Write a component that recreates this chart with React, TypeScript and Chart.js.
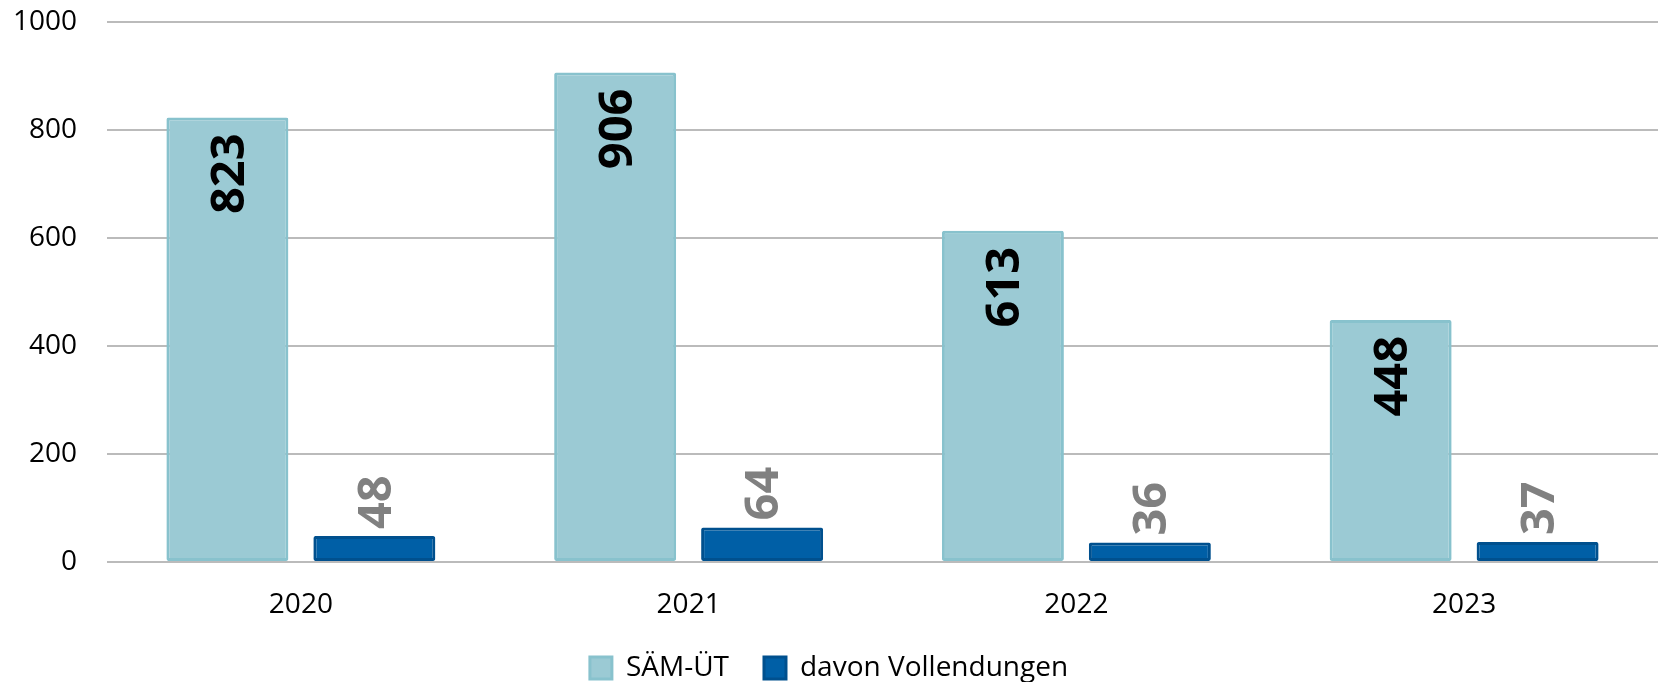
import React, { useEffect, useRef } from "react";
import { Chart, registerables } from "chart.js";

Chart.register(...registerables);

const categories = ["2020", "2021", "2022", "2023"];
const seriesNames = ["SÄM-ÜT", "davon Vollendungen"];
const saemValues = [823, 906, 613, 448];
const vollendungenValues = [48, 64, 36, 37];
const yTicks = [0, 200, 400, 600, 800, 1000];

const FONT = "'Open Sans', 'Liberation Sans', sans-serif";

const valueLabelPlugin = {
  id: "valueLabels",
  afterDatasetsDraw(chart: any) {
    const ctx = chart.ctx;
    chart.data.datasets.forEach((ds: any, di: number) => {
      const meta = chart.getDatasetMeta(di);
      meta.data.forEach((bar: any, i: number) => {
        const v = ds.data[i];
        ctx.save();
        ctx.translate(bar.x, bar.y);
        ctx.rotate(-Math.PI / 2);
        ctx.font = `bold 47px ${FONT}`;
        ctx.textBaseline = "middle";
        if (di === 0) {
          ctx.fillStyle = "#000000";
          ctx.textAlign = "right";
          ctx.fillText(String(v), -16, 3);
        } else {
          ctx.fillStyle = "#808080";
          ctx.textAlign = "left";
          ctx.fillText(String(v), 7, 3);
        }
        ctx.restore();
      });
    });
  },
};

export default function App() {
  const canvasRef = useRef<HTMLCanvasElement | null>(null);

  useEffect(() => {
    if (!canvasRef.current) return;
    const chart = new Chart(canvasRef.current, {
      type: "bar",
      data: {
        labels: categories,
        datasets: [
          {
            label: seriesNames[0],
            data: saemValues,
            backgroundColor: "#9BCAD4",
            borderColor: "#88C2CD",
            borderWidth: 3,
            borderRadius: 2,
            borderSkipped: false,
          },
          {
            label: seriesNames[1],
            data: vollendungenValues,
            backgroundColor: "#005FA6",
            borderColor: "#00508E",
            borderWidth: 3,
            borderRadius: 2,
            borderSkipped: false,
          },
        ],
      },
      options: {
        animation: false,
        responsive: false,
        maintainAspectRatio: false,
        datasets: {
          bar: { categoryPercentage: 0.758, barPercentage: 0.83 },
        },
        layout: { padding: { top: 22, left: 0, right: 0, bottom: 0 } },
        plugins: {
          tooltip: { enabled: false },
          legend: {
            position: "bottom",
            labels: {
              boxWidth: 22,
              boxHeight: 22,
              padding: 35,
              color: "#000000",
              font: { family: FONT, size: 28 },
            },
          },
        },
        scales: {
          x: {
            grid: { display: false, drawTicks: false },
            border: { display: false },
            ticks: {
              color: "#000000",
              padding: 26,
              font: { family: FONT, size: 28 },
            },
            afterFit: (s: any) => {
              s.height = 57;
            },
          },
          y: {
            min: 0,
            max: 1000,
            afterBuildTicks: (s: any) => {
              s.ticks = yTicks.map((v) => ({ value: v }));
            },
            grid: { color: "#BBBBBB", lineWidth: 2, drawTicks: false },
            border: { display: false },
            ticks: {
              color: "#000000",
              padding: 30,
              font: { family: FONT, size: 28 },
              callback: (v: any) => String(v),
            },
            afterFit: (s: any) => {
              s.width = 107;
            },
          },
        },
      },
      plugins: [valueLabelPlugin],
    });
    return () => chart.destroy();
  }, []);

  return (
    <div
      style={{
        position: "fixed",
        left: 0,
        top: 0,
        width: 1658,
        height: 682,
        overflow: "hidden",
        background: "#ffffff",
      }}
    >
      <canvas
        ref={canvasRef}
        width={1658}
        height={717}
        style={{ display: "block", marginTop: -25 }}
      />
    </div>
  );
}
